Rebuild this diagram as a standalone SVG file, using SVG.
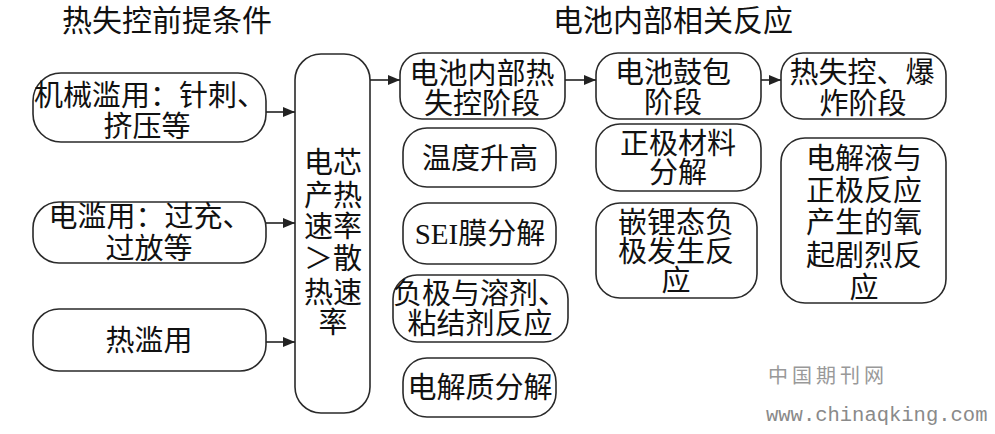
<svg xmlns="http://www.w3.org/2000/svg" width="995" height="434" viewBox="0 0 995 434">
<defs>
<style>
.box{fill:#fff;stroke:#2a2a2a;stroke-width:1.6}
.t{font-family:"Liberation Serif","Noto Sans CJK SC",serif;font-size:29px;fill:#111;text-anchor:middle}
.title{font-family:"Liberation Serif","Noto Sans CJK SC",serif;font-size:30px;fill:#111}
.conn line{stroke:#222;stroke-width:1.6;marker-end:url(#arr)}
.wm{font-family:"Noto Sans CJK SC",sans-serif;font-size:20px;fill:#999;letter-spacing:4px}
.wm2{font-family:"Liberation Mono",monospace;font-size:20.5px;fill:#8a8a8a}
</style>
<marker id="arr" markerUnits="userSpaceOnUse" markerWidth="13" markerHeight="10" refX="12" refY="5" orient="auto">
<path d="M0,0 L12,5 L0,10 z" fill="#222"/>
</marker>
</defs>
<rect width="995" height="434" fill="#fff"/>

<text class="title" x="62" y="31">热失控前提条件</text>
<text class="title" x="553" y="31">电池内部相关反应</text>

<g id="n-mech"><rect class="box" x="33" y="73" width="233" height="69" rx="28"/>
<text class="t" x="150" y="106">机械滥用：针刺、</text><text class="t" x="147" y="137">挤压等</text></g>
<g id="n-elec"><rect class="box" x="33" y="202" width="233" height="61" rx="26"/>
<text class="t" x="150" y="227">电滥用：过充、</text><text class="t" x="149" y="259">过放等</text></g>
<g id="n-heat"><rect class="box" x="33" y="309" width="233" height="62" rx="26"/>
<text class="t" x="149" y="351">热滥用</text></g>

<g id="n-rate"><rect class="box" x="295" y="54" width="75" height="359" rx="26"/>
<text class="t" x="333" y="173">电芯</text><text class="t" x="333" y="206">产热</text><text class="t" x="333" y="237">速率</text>
<text class="t" x="333" y="269">＞散</text><text class="t" x="333" y="303">热速</text><text class="t" x="333" y="333">率</text></g>

<g id="n-stage1"><rect class="box" x="400" y="53" width="165" height="66" rx="22"/>
<text class="t" x="482" y="84">电池内部热</text><text class="t" x="482" y="114">失控阶段</text></g>
<g id="n-temp"><rect class="box" x="403" y="128" width="153" height="59" rx="24"/>
<text class="t" x="480" y="169">温度升高</text></g>
<g id="n-sei"><rect class="box" x="403" y="203" width="153" height="61" rx="24"/>
<text class="t" x="480" y="244">SEI膜分解</text></g>
<g id="n-anode"><rect class="box" x="393" y="275" width="175" height="67" rx="24"/>
<text class="t" x="480" y="304">负极与溶剂、</text><text class="t" x="480" y="334">粘结剂反应</text></g>
<g id="n-electrolyte"><rect class="box" x="403" y="358" width="153" height="59" rx="24"/>
<text class="t" x="480" y="398">电解质分解</text></g>

<g id="n-stage2"><rect class="box" x="596" y="53" width="165" height="66" rx="22"/>
<text class="t" x="673" y="83">电池鼓包</text><text class="t" x="673" y="113">阶段</text></g>
<g id="n-cathode"><rect class="box" x="596" y="124" width="165" height="67" rx="24"/>
<text class="t" x="678" y="154">正极材料</text><text class="t" x="678" y="183">分解</text></g>
<g id="n-lithiated"><rect class="box" x="596" y="203" width="161" height="95" rx="24"/>
<text class="t" x="676" y="233">嵌锂态负</text><text class="t" x="676" y="262">极发生反</text><text class="t" x="676" y="291">应</text></g>

<g id="n-stage3"><rect class="box" x="781" y="53" width="165" height="66" rx="22"/>
<text class="t" x="862" y="83">热失控、爆</text><text class="t" x="863" y="114">炸阶段</text></g>
<g id="n-oxygen"><rect class="box" x="781" y="138" width="165" height="165" rx="24"/>
<text class="t" x="864" y="169">电解液与</text><text class="t" x="864" y="201">正极反应</text><text class="t" x="864" y="233">产生的氧</text>
<text class="t" x="864" y="266">起剧烈反</text><text class="t" x="864" y="298">应</text></g>

<g id="connectors" class="conn">
<line x1="266" y1="112" x2="295" y2="112"/>
<line x1="266" y1="223" x2="295" y2="223"/>
<line x1="266" y1="342" x2="295" y2="342"/>
<line x1="370" y1="80" x2="400" y2="80"/>
<line x1="565" y1="80" x2="596" y2="80"/>
<line x1="761" y1="80" x2="781" y2="80"/>
</g>

<text class="wm" x="768" y="383">中国期刊网</text>
<text class="wm2" x="766" y="421">www.chinaqking.com</text>
</svg>
